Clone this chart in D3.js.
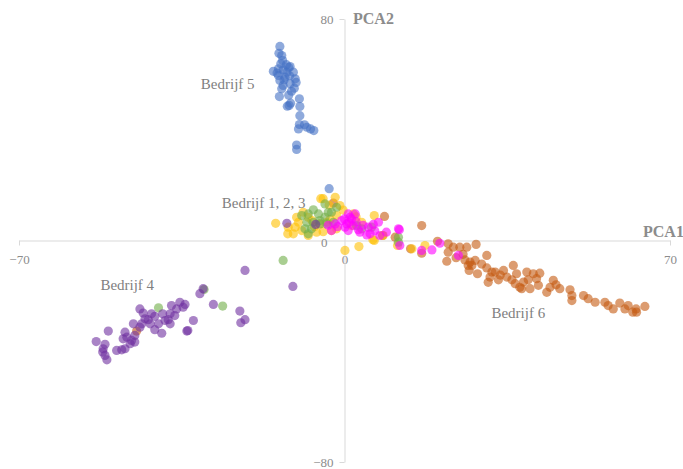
<!DOCTYPE html>
<html>
<head>
<meta charset="utf-8">
<script src="https://cdn.jsdelivr.net/npm/d3@7"></script>
<style>
  body { margin: 0; background: #fff; }
  svg { display: block; font-family: "Liberation Serif", serif; }
  .tick text { fill: #8c8c8c; font-size: 13px; }
  .domain, .tick line { stroke: #d9d9d9; }
  .title { fill: #8c8c8c; font-size: 16px; font-weight: bold; }
  .label { fill: #7f7f7f; font-size: 15px; }
</style>
</head>
<body>
<svg id="chart" width="683" height="469"></svg>
<script>
// PCA scores per bedrijf, [PCA1, PCA2]
const bedrijf1 = [
  [-14.8, 6.2], [-12.2, 2.4], [-12.1, 4.8], [-10.3, 8.4], [-9.9, 6.6], [-10.6, 4.8], [-8.9, 10.2],
  [-7.8, 8.4], [-4.6, 15.1], [-2.0, 15.6], [-1.7, 9.0], [-5.3, 6.0], [-3.8, 6.6], [-2.8, 3.6],
  [-1.7, 4.2], [-6.0, 3.0], [0.1, -3.6], [-9.2, 3.6], [-11.0, 2.4], [1.9, 9.6], [3.7, 6.6],
  [6.4, 9.0], [6.4, 0.0], [3.1, -2.2], [8.3, 1.8], [17.3, -1.8], [14.5, -3.0], [11.4, -1.8],
  [1.5, 5.4], [-5.1, 15.1], [-7.8, 1.8], [-1.0, 12.6], [-7.0, 7.2], [-3.1, 7.6], [-4.6, 3.2],
  [6.1, 0.3], [-0.3, 11.0], [-3.3, 12.8], [-6.5, 5.0], [2.5, 8.5]
];
const bedrijf2 = [
  [-4.2, 13.2], [-6.7, 11.1], [-9.2, 9.0], [-7.8, 9.6], [-5.6, 9.6], [-4.2, 8.4], [-2.8, 10.2],
  [-1.7, 12.0], [-8.1, 6.6], [-6.7, 6.6], [-5.3, 6.0], [-3.8, 6.0], [-8.5, 4.2], [-7.1, 4.2],
  [-5.3, 7.2], [-2.4, 6.6], [-7.8, 2.4], [-3.5, 10.2], [2.6, 5.4], [3.7, 4.2], [11.6, 1.2],
  [11.6, -0.6], [5.8, 4.8], [-30.2, -17.7], [-40.0, -24.3], [-26.2, -23.7], [-13.2, -7.2]
];
const bedrijf3 = [
  [0.8, 9.6], [1.5, 7.8], [0.5, 6.0], [1.9, 5.4], [3.0, 3.9], [5.1, 4.8], [6.2, 5.8], [7.3, 6.6],
  [5.5, 2.4], [7.6, 1.8], [11.6, 4.2], [11.9, -1.8], [16.6, -3.6], [18.8, -3.4], [0.8, 3.6],
  [-2.0, 6.0], [-0.6, 7.2], [0.1, 4.8], [1.2, 8.4], [2.3, 9.6], [-2.8, 3.6], [3.3, 3.0],
  [20.5, -1.0], [24.5, -5.4], [11.8, 3.9], [0.0, 7.8], [1.0, 6.5], [-1.5, 5.0], [2.5, 6.8],
  [4.0, 5.5], [6.5, 3.5], [9.0, 3.0], [-3.5, 5.5], [4.8, 2.0]
];
const bedrijf4 = [
  [-30.4, -17.4], [-31.1, -19.2], [-28.2, -23.1], [-35.4, -22.3], [-34.3, -23.1], [-37.2, -23.5],
  [-44.0, -24.7], [-43.3, -26.2], [-41.5, -26.5], [-42.9, -28.3], [-42.2, -28.6], [-40.8, -27.4],
  [-39.1, -26.5], [-37.5, -26.5], [-36.5, -27.1], [-34.7, -24.1], [-36.1, -24.7], [-37.9, -28.6],
  [-40.0, -30.1], [-45.4, -30.1], [-32.5, -28.9], [-40.8, -32.2], [-39.3, -33.5], [-33.9, -32.7],
  [-44.0, -31.3], [-43.6, -30.1], [-50.8, -32.7], [-47.2, -33.1], [-47.6, -35.5], [-46.8, -34.9],
  [-45.1, -36.7], [-46.1, -37.3], [-53.4, -36.5], [-51.5, -37.5], [-51.9, -39.1], [-49.0, -39.7],
  [-47.9, -39.5], [-47.2, -39.1], [-51.5, -41.5], [-51.1, -43.1], [-52.0, -40.3], [-45.1, -34.3],
  [-45.8, -36.1], [-37.5, -30.1], [-38.6, -28.9], [-41.8, -30.1], [-21.4, -10.8], [-22.5, -25.5],
  [-21.4, -28.6], [-22.3, -29.7], [-33.7, -32.5], [-11.1, -16.6], [-12.4, 6.2], [-6.2, 5.8]
];
const bedrijf5 = [
  [-13.9, 70.1], [-14.1, 67.6], [-13.5, 66.8], [-13.3, 65.0], [-13.7, 63.8], [-11.7, 62.8],
  [-15.3, 61.1], [-14.2, 62.0], [-13.2, 61.6], [-12.4, 60.8], [-11.0, 60.8], [-14.2, 59.6],
  [-12.8, 59.0], [-10.6, 58.4], [-10.4, 57.1], [-13.9, 57.8], [-11.7, 56.6], [-13.2, 56.0],
  [-13.5, 54.8], [-11.4, 53.9], [-14.0, 52.0], [-9.7, 51.2], [-11.6, 49.6], [-12.3, 48.5],
  [-9.6, 48.4], [-9.6, 45.1], [-9.7, 41.9], [-8.6, 41.8], [-9.9, 40.3], [-8.1, 40.9],
  [-7.3, 40.3], [-6.6, 39.7], [-10.3, 34.5], [-10.3, 32.9], [-3.3, 18.7], [-12.0, 62.5],
  [-14.5, 60.5], [-12.5, 63.5], [-13.0, 58.0], [-11.8, 59.5], [-10.8, 55.0], [-12.0, 52.5],
  [-11.9, 48.8]
];
const bedrijf6 = [
  [16.6, 5.4], [10.9, 1.2], [14.2, -3.0], [16.6, -4.6], [20.0, -0.3], [22.3, -1.2], [23.4, -2.4],
  [24.8, -2.4], [26.3, -2.4], [28.3, -1.4], [22.3, -4.2], [22.0, -7.5], [24.0, -6.2], [25.9, -7.0],
  [27.0, -7.8], [28.1, -7.2], [26.6, -9.0], [27.4, -9.0], [30.6, -5.4], [26.8, -10.8], [28.6, -12.0],
  [30.6, -9.9], [31.7, -11.4], [32.4, -11.4], [31.3, -13.2], [34.2, -10.8], [36.3, -9.0],
  [34.9, -13.2], [36.0, -14.2], [37.0, -12.0], [36.7, -15.6], [37.7, -16.9], [39.2, -11.4],
  [40.6, -12.0], [42.0, -11.8], [39.5, -14.2], [41.3, -13.8], [41.7, -16.2], [39.9, -17.4],
  [38.1, -17.4], [44.9, -14.4], [44.2, -16.9], [43.5, -18.7], [46.3, -17.4], [48.5, -17.8],
  [48.9, -19.9], [48.9, -21.7], [51.4, -19.9], [52.4, -21.0], [53.9, -22.3], [56.0, -22.3],
  [56.7, -23.5], [57.8, -24.7], [59.2, -22.6], [60.3, -24.7], [61.0, -23.5], [62.7, -24.7],
  [62.8, -25.9], [64.6, -23.8], [62.0, -25.9], [30.9, -15.1], [33.1, -14.2], [8.6, 8.7],
  [-2.4, 13.5], [8.2, 1.8], [-44.7, -32.7], [25.5, -5.0], [29.5, -8.5], [33.5, -12.5],
  [45.5, -16.0], [38.5, -15.0]
];

const xTicks = [-70, 0, 70];
const yTicks = [-80, 0, 80];

const series = [
  { name: "Bedrijf 5", values: bedrijf5, color: "#4472C4" },
  { name: "Bedrijf 6", values: bedrijf6, color: "#C55A11" },
  { name: "Bedrijf 1", values: bedrijf1, color: "#FFC000" },
  { name: "Bedrijf 2", values: bedrijf2, color: "#70AD47" },
  { name: "Bedrijf 4", values: bedrijf4, color: "#7030A0" },
  { name: "Bedrijf 3", values: bedrijf3, color: "#FF00FF" }
];

// group labels, placed in data coordinates
const labels = [
  { text: "Bedrijf 5", pc1: -30.9, pc2: 54.8 },
  { text: "Bedrijf 1, 2, 3", pc1: -26.4, pc2: 11.6 },
  { text: "Bedrijf 4", pc1: -52.5, pc2: -18 },
  { text: "Bedrijf 6", pc1: 31.6, pc2: -28 }
];

const svg = d3.select("svg#chart");

const x = d3.scaleLinear().domain([-70, 70]).range([19, 670]);
const y = d3.scaleLinear().domain([-80, 80]).range([462, 19]);

// x axis through origin
const xAxis = svg.append("g")
  .attr("transform", "translate(0," + y(0) + ")")
  .call(d3.axisBottom(x).tickValues(xTicks).tickSize(5).tickSizeOuter(0).tickPadding(9));
xAxis.selectAll(".tick").filter(d => d === 0).select("line").remove();

// y axis through origin
const yAxis = svg.append("g")
  .attr("transform", "translate(" + x(0) + ",0)")
  .call(d3.axisLeft(y).tickValues(yTicks).tickSize(5).tickSizeOuter(0).tickPadding(6));
yAxis.selectAll(".tick").filter(d => d === 0).select("line").remove();
yAxis.selectAll(".tick").filter(d => d === 0).select("text").attr("dx", -6).attr("dy", "0.45em");

svg.selectAll(".tick text").attr("font-family", "Liberation Serif");

svg.append("text").attr("class", "title").attr("x", 643).attr("y", 237).text("PCA1");
svg.append("text").attr("class", "title").attr("x", 353).attr("y", 24).text("PCA2");

// points
const dots = svg.append("g");
series.forEach(function(s) {
  dots.append("g")
    .selectAll("circle")
    .data(s.values)
    .enter()
    .append("circle")
    .attr("cx", d => x(d[0]))
    .attr("cy", d => y(d[1]))
    .attr("r", 4.6)
    .style("fill", s.color)
    .style("fill-opacity", 0.6);
});

svg.append("g").selectAll("text")
  .data(labels)
  .enter()
  .append("text")
  .attr("class", "label")
  .attr("x", d => x(d.pc1))
  .attr("y", d => y(d.pc2))
  .text(d => d.text);
</script>
</body>
</html>
